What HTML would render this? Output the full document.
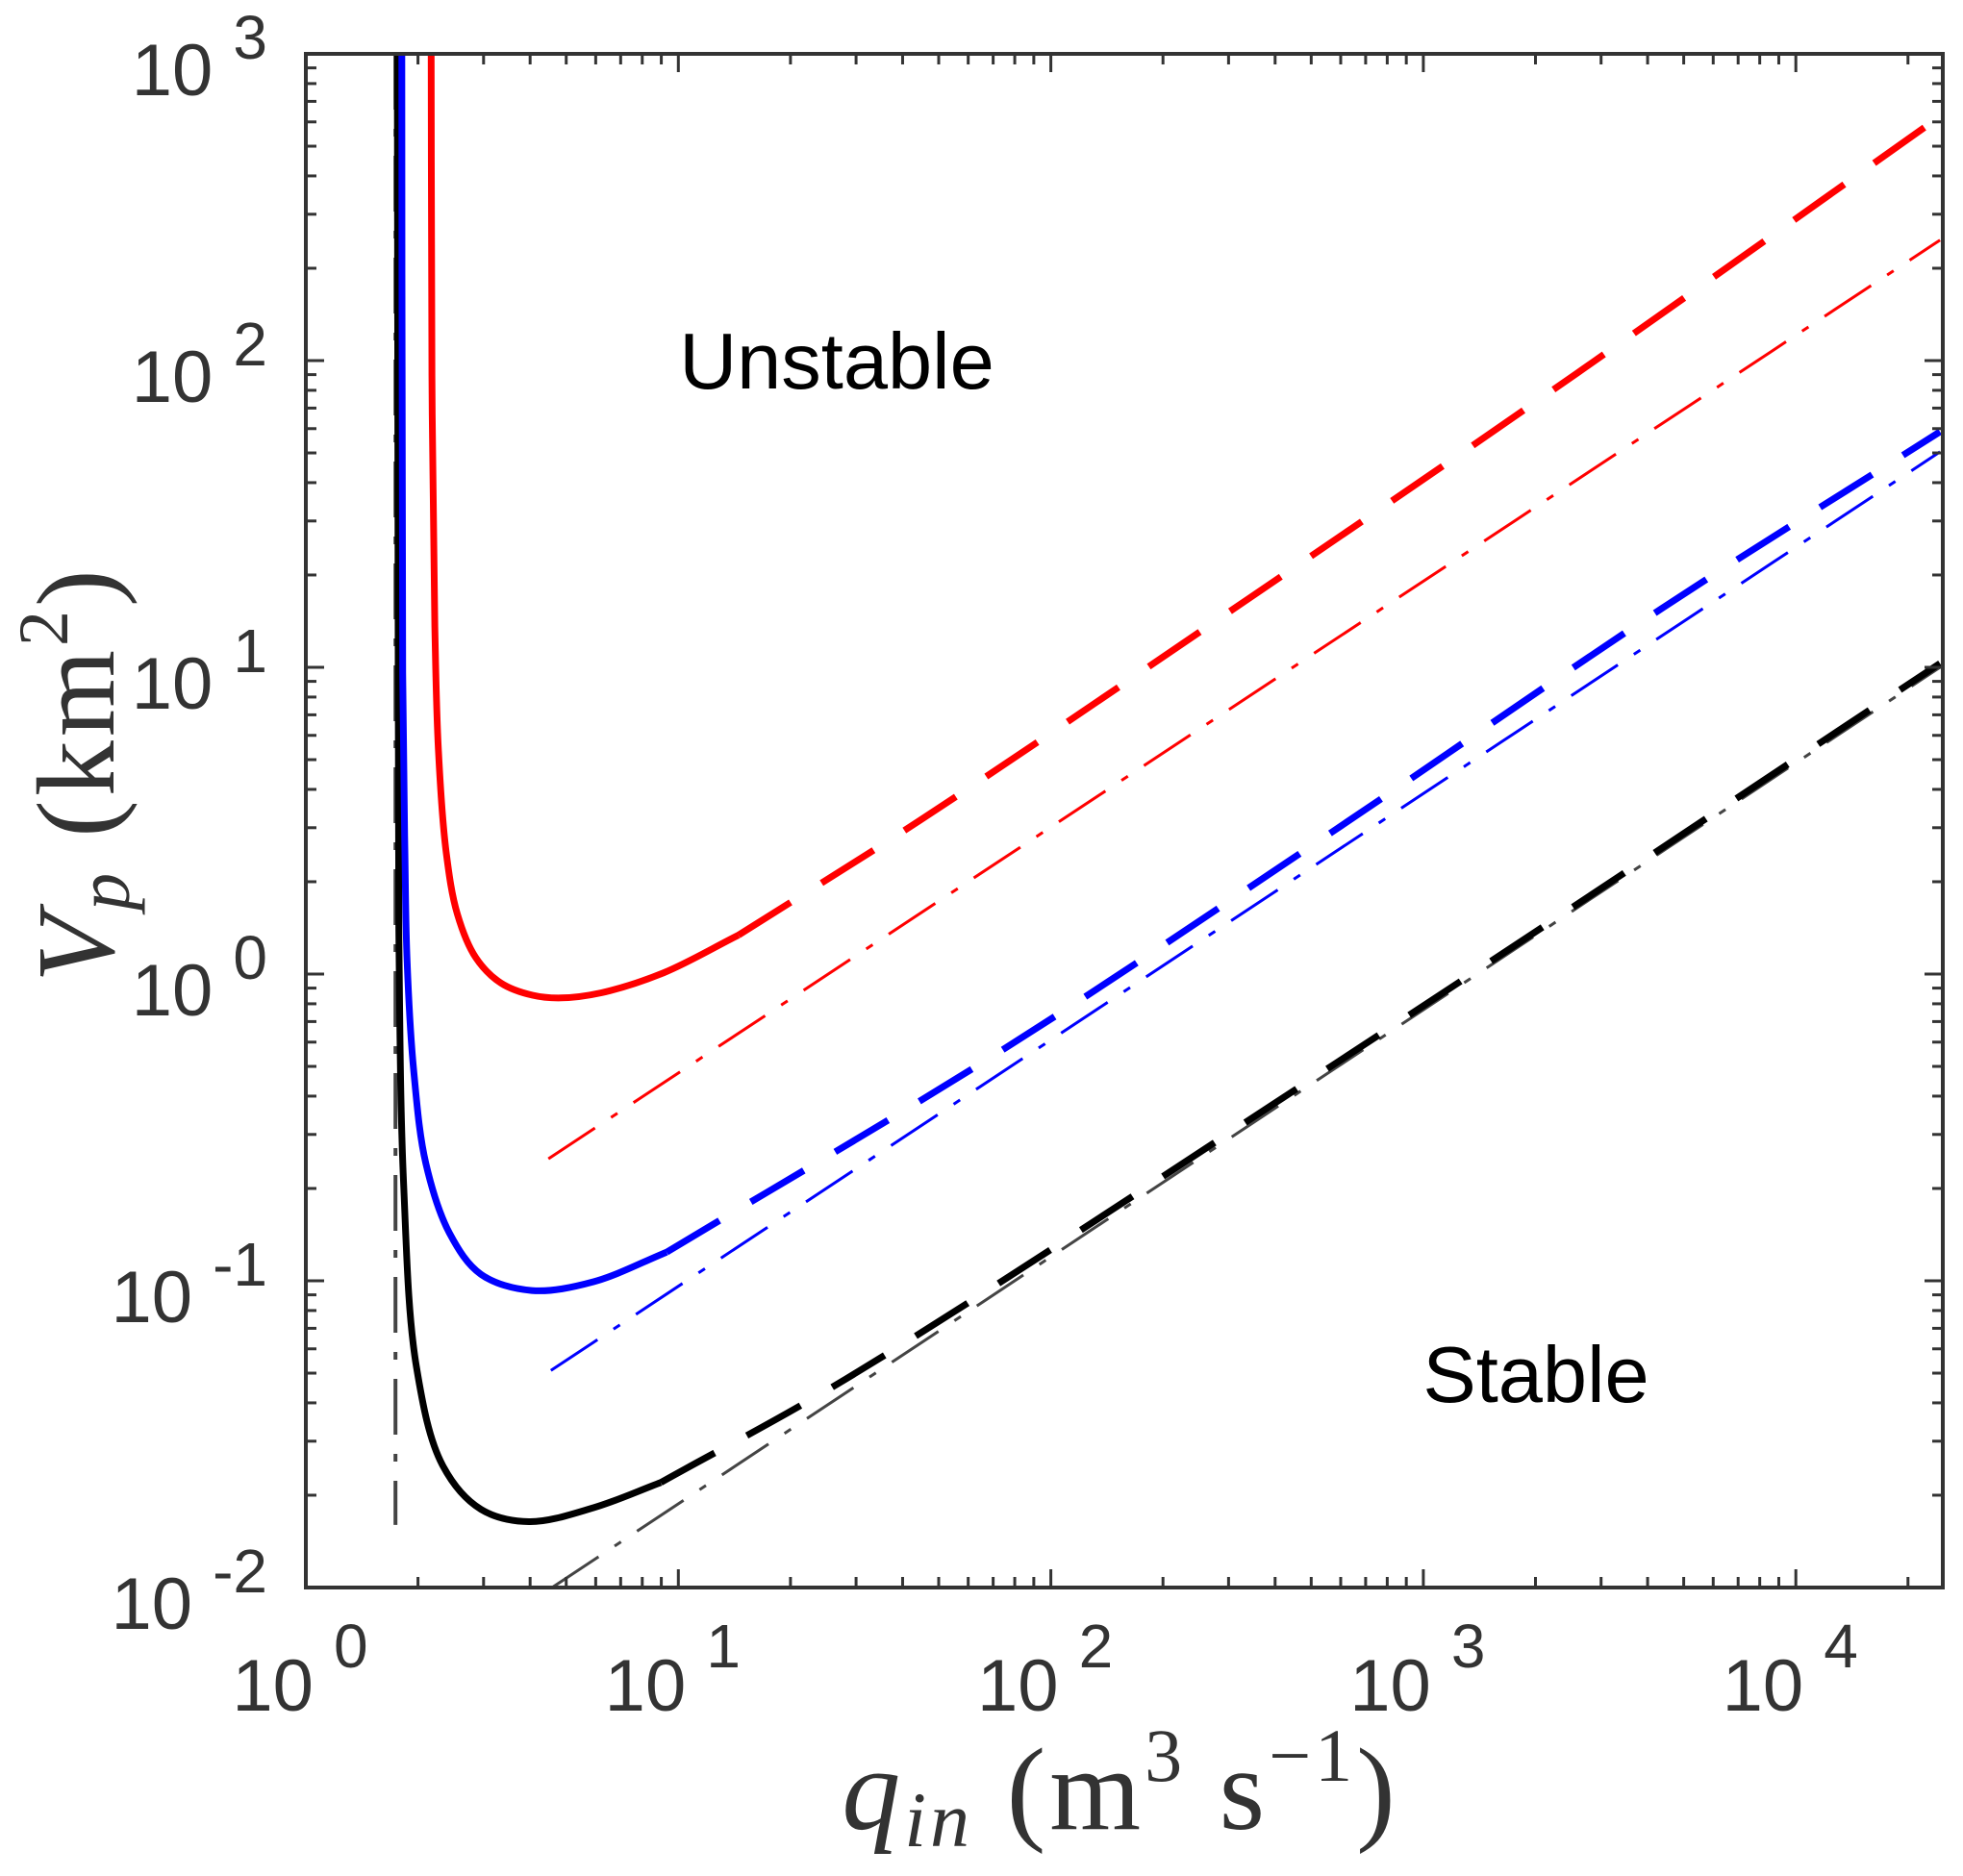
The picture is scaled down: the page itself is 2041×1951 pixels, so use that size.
<!DOCTYPE html>
<html><head><meta charset="utf-8"><style>
html,body{margin:0;padding:0;background:#fff}
svg{display:block}
text{font-family:"Liberation Sans",sans-serif;fill:#333}
.ser{font-family:"Liberation Serif",serif}
</style></head><body>
<svg id="chart" width="2041" height="1951" viewBox="0 0 2041 1951" xmlns="http://www.w3.org/2000/svg">
<defs><clipPath id="clip"><rect x="318" y="56" width="1702" height="1595"/></clipPath></defs>
<rect width="2041" height="1951" fill="#fff"/>
<g id="series" clip-path="url(#clip)"></g>
<g id="axes"></g>
<text x="870" y="404" font-size="83" text-anchor="middle" style="fill:#000">Unstable</text>
<text x="1597" y="1458" font-size="83" text-anchor="middle" style="fill:#000">Stable</text>
<text class="ser" x="1165" y="1902" font-size="122" text-anchor="middle" letter-spacing="4"><tspan font-style="italic">q</tspan><tspan font-style="italic" font-size="82" dy="18">in</tspan><tspan dy="-18"> (m</tspan><tspan font-size="78" dy="-50">3</tspan><tspan dy="50"> s</tspan><tspan font-size="78" dy="-50">−1</tspan><tspan dy="50">)</tspan></text>
<text class="ser" transform="translate(118,805) rotate(-90)" font-size="116" text-anchor="middle" letter-spacing="4"><tspan font-style="italic">V</tspan><tspan font-style="italic" font-size="78" dy="16">p</tspan><tspan dy="-16"> (km</tspan><tspan font-size="74" dy="-48">2</tspan><tspan dy="48">)</tspan></text>
</svg>
<script>
const redSolidQ=[2.17,2.18,2.22,2.27,2.38,2.55,2.86,3.34,4.06,4.85,6.21,9.14,14.5];
const redSolidV=[1000,89.3,13.6,5.33,2.51,1.57,1.13,0.935,0.853,0.836,0.869,1.01,1.34];
const redDashQ=[14.5,44.7,341,2606,24380];
const redDashV=[1.34,3.18,16.8,91.6,625];
const redDotQ=[4.48,24380];
const redDotV=[0.25,247];
const blueSolidQ=[1.81,1.82,1.845,1.87,1.95,2.10,2.43,2.95,4.04,5.92,9.30];
const blueSolidV=[1000,9.6,2.5,1.10,0.479,0.241,0.143,0.105,0.093,0.0993,0.124];
const blueDashQ=[9.30,74.0,565,4345,24380];
const blueDashV=[0.124,0.565,2.89,15.5,58.6];
const blueDotQ=[4.55,24380];
const blueDotV=[0.051,50.4];
const blackSolidQ=[1.76,1.77,1.78,1.83,1.98,2.33,2.95,3.97,5.92,8.97];
const blackSolidV=[1000,10,1.10,0.209,0.0526,0.025,0.0180,0.0164,0.0182,0.0220];
const blackDashQ=[8.97,28.2,565,24380];
const blackDashV=[0.0220,0.0479,0.5,10.3];
const blackDotQ=[4.58,24380];
const blackDotV=[0.01,10.0];
const asymQ=[1.74,1.74];
const asymV=[1000,0.016];
const xTickExp=[0,1,2,3,4];
const yTickExp=[3,2,1,0,-1,-2];

const L=318,R=2020,T=56,B=1651,XD=387.3,YD=319;
const xs=q=>L+XD*Math.log10(q);
const ys=v=>T+YD*(3-Math.log10(v));
const NS="http://www.w3.org/2000/svg";
const series=document.getElementById('series');
const axes=document.getElementById('axes');

function dist(a,b){return Math.hypot(a[0]-b[0],a[1]-b[1]);}
function pathD(Q,V){
  const p=Q.map((q,i)=>[xs(q),ys(V[i])]);
  let d='M'+p[0][0].toFixed(1)+','+p[0][1].toFixed(1);
  for(let i=0;i<p.length-1;i++){
    const p1=p[i],p2=p[i+1];
    const p0=i>0?p[i-1]:null,p3=i+2<p.length?p[i+2]:null;
    const d2=Math.sqrt(dist(p1,p2))||1e-6;
    let c1,c2;
    if(p0){
      const d1=Math.sqrt(dist(p0,p1))||1e-6;
      c1=[0,1].map(k=>(d1*d1*p2[k]-d2*d2*p0[k]+(2*d1*d1+3*d1*d2+d2*d2)*p1[k])/(3*d1*(d1+d2)));
    } else c1=[p1[0]+(p2[0]-p1[0])/3,p1[1]+(p2[1]-p1[1])/3];
    if(p3){
      const d3=Math.sqrt(dist(p2,p3))||1e-6;
      c2=[0,1].map(k=>(d3*d3*p1[k]-d2*d2*p3[k]+(2*d3*d3+3*d3*d2+d2*d2)*p2[k])/(3*d3*(d3+d2)));
    } else c2=[p2[0]-(p2[0]-p1[0])/3,p2[1]-(p2[1]-p1[1])/3];
    d+=' C'+c1[0].toFixed(1)+','+c1[1].toFixed(1)+' '+c2[0].toFixed(1)+','+c2[1].toFixed(1)+' '+p2[0].toFixed(1)+','+p2[1].toFixed(1);
  }
  return d;
}
function addLine(Q,V,color,w,dash,name){
  const el=document.createElementNS(NS,'path');
  el.setAttribute('d',pathD(Q,V));
  el.setAttribute('fill','none');
  el.setAttribute('stroke',color);
  el.setAttribute('stroke-width',w);
  if(dash)el.setAttribute('stroke-dasharray',dash);
  
  
  series.appendChild(el);
}
const DD="58 20 8 20";
addLine(asymQ,asymV,'#444',4,DD,'asymptote-line');
addLine(redDotQ,redDotV,'#ff0000',3,DD,'red-asymptotic-line');
addLine(blueDotQ,blueDotV,'#0000ff',3,DD,'blue-asymptotic-line');
addLine(blackDotQ,blackDotV,'#444',3,DD,'black-asymptotic-line');
addLine(redDashQ,redDashV,'#ff0000',7,'64 38','red-dashed-curve');
addLine(blueDashQ,blueDashV,'#0000ff',7,'64 38','blue-dashed-curve');
addLine(blackDashQ,blackDashV,'#000',7,'64 38','black-dashed-curve');
addLine(blackSolidQ,blackSolidV,'#000',7,null,'black-solid-curve');
addLine(blueSolidQ,blueSolidV,'#0000ff',7,null,'blue-solid-curve');
addLine(redSolidQ,redSolidV,'#ff0000',7,null,'red-solid-curve');

function ln(x1,y1,x2,y2,w,name){
  const el=document.createElementNS(NS,'line');
  el.setAttribute('x1',x1);el.setAttribute('y1',y1);el.setAttribute('x2',x2);el.setAttribute('y2',y2);
  el.setAttribute('stroke','#333');el.setAttribute('stroke-width',w);
  
  
  axes.appendChild(el);
}
const box=document.createElementNS(NS,'rect');
box.setAttribute('x',L);box.setAttribute('y',T);box.setAttribute('width',R-L);box.setAttribute('height',B-T);
box.setAttribute('fill','none');box.setAttribute('stroke','#333');box.setAttribute('stroke-width',4);


axes.appendChild(box);
for(let e=0;e<=4;e++){
  for(let m=1;m<=9;m++){
    const x=xs(m*Math.pow(10,e)); if(x>R)continue;
    const len=m===1?19:11;
    ln(x,B,x,B-len,3,'x-tick');
    ln(x,T,x,T+len,3,'x-tick-top');
  }
}
for(let e=-2;e<=2;e++){
  for(let m=1;m<=9;m++){
    const y=ys(m*Math.pow(10,e));
    const len=m===1?19:11;
    ln(L,y,L+len,y,3,'y-tick');
    ln(R,y,R-len,y,3,'y-tick-right');
  }
}
function label(x,y,exp,anchor,dy,name){
  const t=document.createElementNS(NS,'text');
  t.setAttribute('x',x);t.setAttribute('y',y);
  t.setAttribute('font-size','76');t.setAttribute('text-anchor',anchor);
  
  
  const s1=document.createElementNS(NS,'tspan');s1.textContent='10 ';
  const s2=document.createElementNS(NS,'tspan');
  s2.setAttribute('dy',dy);s2.setAttribute('font-size','64');
  s2.textContent=exp<0?'-'+(-exp):String(exp);
  t.appendChild(s1);t.appendChild(s2);
  axes.appendChild(t);
}
xTickExp.forEach(e=>label(xs(Math.pow(10,e))-6,1779,e,'middle','-45','x-tick-label'));
yTickExp.forEach(e=>label(278,ys(Math.pow(10,e))+43,e,'end','-38','y-tick-label'));
</script>
</body></html>
